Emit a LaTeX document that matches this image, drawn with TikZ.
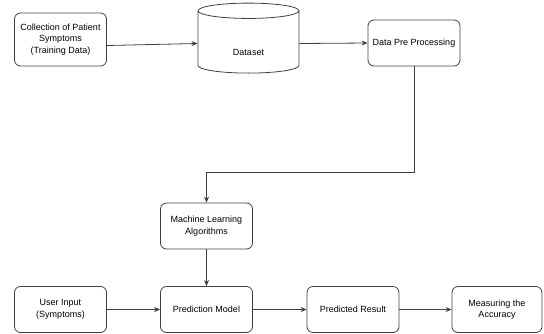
\documentclass[tikz,border=0pt]{standalone}
\usepackage{fontspec}
\setmainfont{Liberation Sans}
\usetikzlibrary{shapes.geometric, arrows.meta}

\tikzset{
    stepbox/.style={draw=black!75, rounded corners=6pt, line width=0.8pt, minimum width=92pt, minimum height=46pt, align=center, inner sep=1pt, font=\fontsize{9}{11.5}\selectfont},
    arrow/.style={draw=black!75, line width=0.8pt, -{Stealth[length=6pt,width=5pt]}}
}

\begin{document}
\begin{tikzpicture}[x=1pt, y=-1pt]  % Begins a TikZ picture environment, pixel units
    \useasboundingbox (0,0) rectangle (544,333);  % Fixes the page size
    \node[stepbox, minimum height=53pt] (collect) at (60.5,39.5) {Collection of Patient\\Symptoms\\(Training Data)};  % Top left box
    \node[draw=black!75, line width=0.8pt, cylinder, shape border rotate=90, aspect=2.3, minimum width=101pt, minimum height=70pt, label={[yshift=-9pt, font=\fontsize{9}{11}\selectfont]center:Dataset}] (dataset) at (248.5,43.5) {};  % Database cylinder
    \node[stepbox] (prep) at (414,43) {Data Pre Processing};  % Pre processing box
    \node[stepbox] (mla) at (206.5,226) {Machine Learning\\Algorithms};  % Algorithm box
    \node[stepbox] (user) at (60.5,309.5) {User Input\\(Symptoms)};  % Bottom row
    \node[stepbox] (model) at (206.5,309.5) {Prediction Model};
    \node[stepbox] (result) at (353,309.5) {Predicted Result};
    \node[stepbox, minimum width=90pt] (accuracy) at (497,309.5) {Measuring the\\Accuracy};
    \draw[arrow] ([yshift=-6pt]collect.east) -- (dataset.west);  % Connectors
    \draw[arrow] (dataset.east) -- (prep.west);
    \draw[arrow] (prep.south) -- ++(0,106) -| (mla.north);
    \draw[arrow] (mla.south) -- (model.north);
    \draw[arrow] (user.east) -- (model.west);
    \draw[arrow] (model.east) -- (result.west);
    \draw[arrow] (result.east) -- (accuracy.west);
\end{tikzpicture}
\end{document}
